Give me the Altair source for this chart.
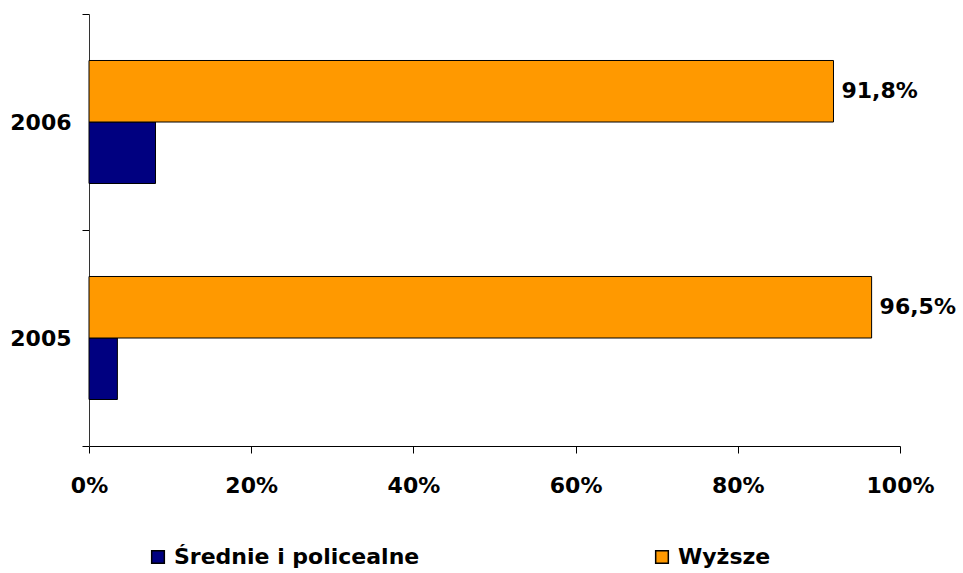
import altair as alt
import pandas as pd

years = ["2006", "2005"]
series = ["Średnie i policealne", "Wyższe"]
srednie = [8.2, 3.5]
wyzsze = [91.8, 96.5]
x_ticks = [0, 20, 40, 60, 80, 100]

rows = []
for i, y in enumerate(years):
    rows.append({"rok": y, "grupa": series[0], "wartosc": srednie[i]})
    rows.append({"rok": y, "grupa": series[1], "wartosc": wyzsze[i]})
df = pd.DataFrame(rows)
df["etykieta"] = df["wartosc"].map(lambda v: f"{v:.1f}%".replace(".", ","))

FONT = "DejaVu Sans"
FS = 22

y_enc = alt.Y(
    "rok:N",
    sort=years,
    title=None,
    scale=alt.Scale(paddingInner=0, paddingOuter=0),
    axis=alt.Axis(
        tickBand="extent",
        labelFont=FONT,
        labelFontSize=FS,
        labelFontWeight="bold",
        labelColor="#000000",
        labelPadding=11,
        tickSize=7,
        tickColor="#000000",
        domainColor="#333333",
        labelAngle=0,
    ),
)
yoff_enc = alt.YOffset(
    "grupa:N",
    sort=[series[1], series[0]],
    scale=alt.Scale(paddingInner=0, paddingOuter=0.756),
)
x_enc = alt.X(
    "wartosc:Q",
    title=None,
    scale=alt.Scale(domain=[0, 100], nice=False),
    axis=alt.Axis(
        values=x_ticks,
        labelExpr="datum.value + '%'",
        labelFlush=False,
        labelFont=FONT,
        labelFontSize=FS,
        labelFontWeight="bold",
        labelColor="#000000",
        labelPadding=22,
        tickSize=7,
        tickColor="#000000",
        domainColor="#000000",
        grid=False,
    ),
)

bars = alt.Chart(df).mark_bar(stroke="#000000", strokeWidth=1).encode(
    y=y_enc,
    yOffset=yoff_enc,
    x=x_enc,
    color=alt.Color(
        "grupa:N",
        sort=series,
        scale=alt.Scale(domain=series, range=["#000080", "#FF9900"]),
        legend=alt.Legend(
            title=None,
            orient="none",
            direction="horizontal",
            legendX=58,
            legendY=532,
            symbolType="square",
            symbolSize=160,
            symbolStrokeColor="#000000",
            symbolStrokeWidth=1.5,
            symbolOpacity=1,
            labelFont=FONT,
            labelFontSize=FS,
            labelFontWeight="bold",
            labelColor="#000000",
            labelLimit=400,
            labelOffset=5,
            columnPadding=231,
        ),
    ),
)

labels = alt.Chart(df).transform_filter(
    alt.datum.grupa == series[1]
).mark_text(
    align="left",
    baseline="middle",
    dx=8,
    font=FONT,
    fontSize=FS,
    fontWeight="bold",
    color="#000000",
).encode(
    y=alt.Y("rok:N", sort=years),
    yOffset=alt.YOffset("grupa:N", sort=[series[1], series[0]]),
    x="wartosc:Q",
    text="etykieta:N",
)

chart = alt.layer(bars, labels).properties(
    width=811,
    height=432,
    background="#ffffff",
    autosize=alt.AutoSizeParams(type="none"),
    padding={"left": 89, "top": 14, "right": 63, "bottom": 127},
).configure_view(stroke=None)

chart.save("out.html", embed_options={"renderer": "svg", "actions": False})
